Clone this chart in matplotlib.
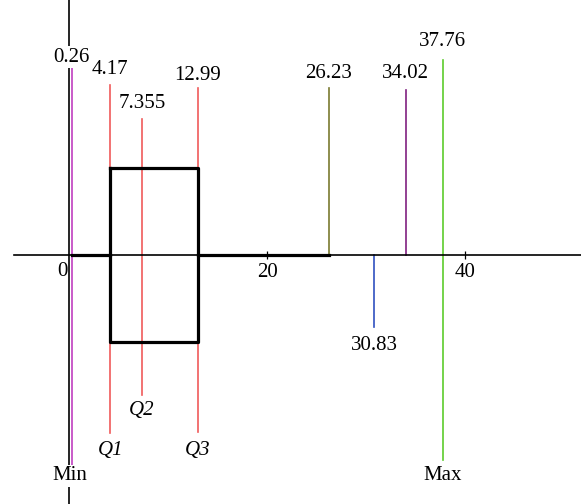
import matplotlib.pyplot as plt

# Five-number summary plus a few extra reference values
values = [0.26, 4.17, 7.355, 12.99, 26.23, 34.02, 37.76, 30.83]
value_labels = ['0.26', '4.17', '7.355', '12.99', '26.23', '34.02', '37.76', '30.83']
bottom_labels = ['Min', 'Q1', 'Q2', 'Q3', '', '', 'Max', '']
q1, median, q3 = 4.17, 7.355, 12.99
whisker_low, whisker_high = 0.26, 26.23
xticks = [20, 40]

# Drawing layout (vertical extents in axis units, label nudges, colours)
line_top = [188, 170, 136, 167, 167, 165, 195, 0]
line_bottom = [-210, -178, -140, -177, 0, 0, -205, -72]
label_top = [198, 185, 152, 180, 181, 181, 213, -90]
label_bottom = [-221, -195, -155, -195, 0, 0, -221, 0]
label_shift = [-0.2, 0, 0, 0, 0, 0, 0, 0]
colors = ['#c040c0', '#f05a5a', '#f05a5a', '#f05a5a', '#7a7a30', '#802080', '#5ccc2c', '#3050c0']

plt.rcParams['font.family'] = ['Liberation Serif', 'DejaVu Serif']
FS = 15

fig = plt.figure(figsize=(5.81, 5.04), dpi=100)
ax = fig.add_axes([0, 0, 1, 1])
ax.set_xlim(-6.97, 51.7)
ax.set_ylim(-249, 255)

# axes through the origin
for side in ['top', 'right']:
    ax.spines[side].set_visible(False)
ax.spines['bottom'].set_position(('data', 0))
ax.spines['left'].set_position(('data', 0))
ax.spines['bottom'].set_bounds(-5.6, 51.7)
ax.spines['left'].set_linewidth(1.2)
ax.spines['bottom'].set_linewidth(1.2)
ax.set_yticks([])
ax.set_xticks(xticks)
ax.set_xticklabels([str(t) for t in xticks], fontsize=FS)
ax.tick_params(axis='x', direction='inout', length=6, width=0.9, pad=3)
ax.text(-0.65, -7, '0', fontsize=FS, ha='center', va='top')

# box and whiskers
ax.plot([q1, q3, q3, q1, q1], [87, 87, -87, -87, 87], color='black', lw=2.3, zorder=3)
ax.plot([whisker_low, q1], [0, 0], color='black', lw=2.3, zorder=3)
ax.plot([q3, whisker_high], [0, 0], color='black', lw=2.3, zorder=3)

for i, v in enumerate(values):
    ax.plot([v, v], [line_bottom[i], line_top[i]], color=colors[i], lw=1.2, zorder=2)
    ax.text(v, label_top[i], value_labels[i], fontsize=FS, ha='center', va='center',
            bbox=dict(facecolor='white', edgecolor='none', pad=1), zorder=4)
    if bottom_labels[i]:
        style = 'italic' if bottom_labels[i].startswith('Q') else 'normal'
        ax.text(v + label_shift[i], label_bottom[i], bottom_labels[i], fontsize=FS,
                ha='center', va='center', style=style,
                bbox=dict(facecolor='white', edgecolor='none', pad=1), zorder=4)

fig.savefig('out.png', dpi=100)
